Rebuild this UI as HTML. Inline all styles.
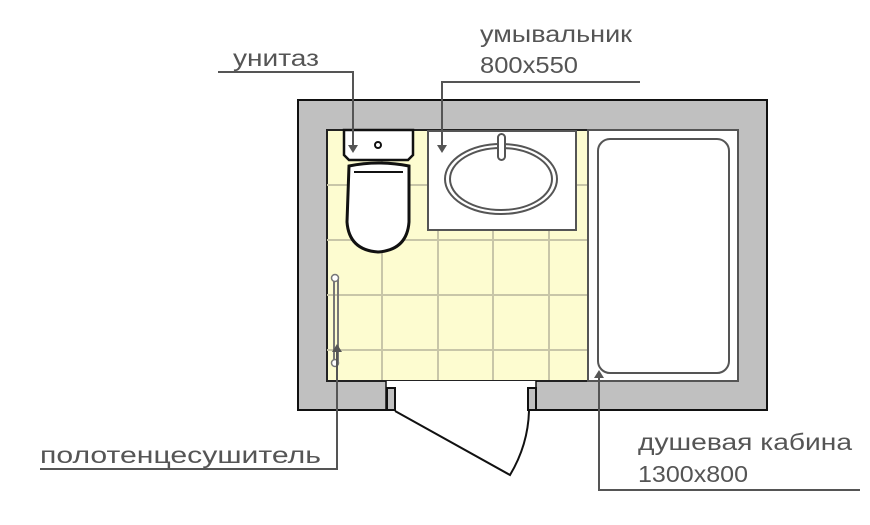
<!DOCTYPE html>
<html><head><meta charset="utf-8"><style>
html,body{margin:0;padding:0;background:#fff;width:870px;height:525px;overflow:hidden}
svg{display:block}
text{font-family:"Liberation Sans","DejaVu Sans",sans-serif;font-size:23px;fill:#555}
</style></head><body>
<svg width="870" height="525" viewBox="0 0 870 525" xmlns="http://www.w3.org/2000/svg">
<rect x="298" y="100" width="469" height="310" fill="#c0c0c0" stroke="#111" stroke-width="2"/>
<rect x="327" y="130" width="411" height="251" fill="#fdfcd0" stroke="#222" stroke-width="2"/>
<g stroke="#c8c6a8" stroke-width="2">
<line x1="382" y1="130" x2="382" y2="380"/><line x1="438" y1="130" x2="438" y2="380"/>
<line x1="493" y1="130" x2="493" y2="380"/><line x1="549" y1="130" x2="549" y2="380"/>
<line x1="327" y1="185" x2="588" y2="185"/><line x1="327" y1="240" x2="588" y2="240"/>
<line x1="327" y1="295" x2="588" y2="295"/><line x1="327" y1="350" x2="588" y2="350"/>
</g>
<rect x="588" y="130" width="150" height="251" fill="#fff" stroke="#555" stroke-width="2"/>
<rect x="598" y="139" width="131" height="234" rx="12" fill="#fff" stroke="#555" stroke-width="2"/>
<rect x="386" y="381" width="150" height="30" fill="#fff"/>
<line x1="298" y1="410" x2="386" y2="410" stroke="#111" stroke-width="2"/>
<line x1="536" y1="410" x2="767" y2="410" stroke="#111" stroke-width="2"/>
<line x1="386" y1="381" x2="386" y2="410" stroke="#111" stroke-width="1.5"/>
<line x1="536" y1="381" x2="536" y2="410" stroke="#111" stroke-width="1.5"/>
<rect x="387" y="388" width="8" height="22" fill="#c0c0c0" stroke="#111" stroke-width="2"/>
<rect x="528" y="388" width="8" height="22" fill="#c0c0c0" stroke="#111" stroke-width="2"/>
<path d="M395 411 L510 475 Q528 445 529 411" fill="none" stroke="#111" stroke-width="2"/>
<path d="M344 130 L344 155 L349 160 L408 160 L413 155 L413 130 Z" fill="#fff" stroke="#111" stroke-width="2.5"/>
<circle cx="378" cy="145" r="3" fill="#fff" stroke="#111" stroke-width="2"/>
<path d="M349 166 Q378 160 409 166 L409 222 Q407 250 378 252 Q349 250 347 222 Z" fill="#fff" stroke="#111" stroke-width="3"/>
<path d="M354 172 L403 172" stroke="#111" stroke-width="2"/>
<rect x="428" y="131" width="148" height="99" fill="#fff" stroke="#555" stroke-width="2"/>
<ellipse cx="501" cy="179" rx="56" ry="35" fill="#fff" stroke="#555" stroke-width="2"/>
<ellipse cx="501" cy="179" rx="51" ry="31" fill="#fff" stroke="#555" stroke-width="2"/>
<rect x="498" y="134" width="7" height="26" rx="3.5" fill="#fff" stroke="#555" stroke-width="2"/>
<line x1="334" y1="278" x2="334" y2="363" stroke="#777" stroke-width="2"/>
<line x1="338" y1="278" x2="338" y2="363" stroke="#777" stroke-width="2"/>
<circle cx="335" cy="278" r="3.5" fill="#fff" stroke="#777" stroke-width="1.5"/>
<circle cx="335" cy="363" r="3.5" fill="#fff" stroke="#777" stroke-width="1.5"/>
<g stroke="#555" stroke-width="2" fill="none">
<polyline points="218,72 353,72 353,150"/>
<polyline points="640,82 442,82 442,150"/>
<polyline points="40,469 337,469 337,350"/>
<polyline points="860,490 599,490 599,376"/>
</g>
<g fill="#555">
<polygon points="348,145 358,145 353,153"/>
<polygon points="437,145 447,145 442,153"/>
<polygon points="332,352 342,352 337,344"/>
<polygon points="594,378 604,378 599,370"/>
</g>
<text x="233" y="66" textLength="86" lengthAdjust="spacingAndGlyphs">унитаз</text>
<text x="480" y="42" textLength="152" lengthAdjust="spacingAndGlyphs">умывальник</text>
<text x="480" y="73" textLength="98" lengthAdjust="spacingAndGlyphs">800x550</text>
<text x="40" y="463" textLength="281" lengthAdjust="spacingAndGlyphs">полотенцесушитель</text>
<text x="638" y="450" textLength="214" lengthAdjust="spacingAndGlyphs">душевая кабина</text>
<text x="638" y="482" textLength="110" lengthAdjust="spacingAndGlyphs">1300x800</text>
</svg>
</body></html>
